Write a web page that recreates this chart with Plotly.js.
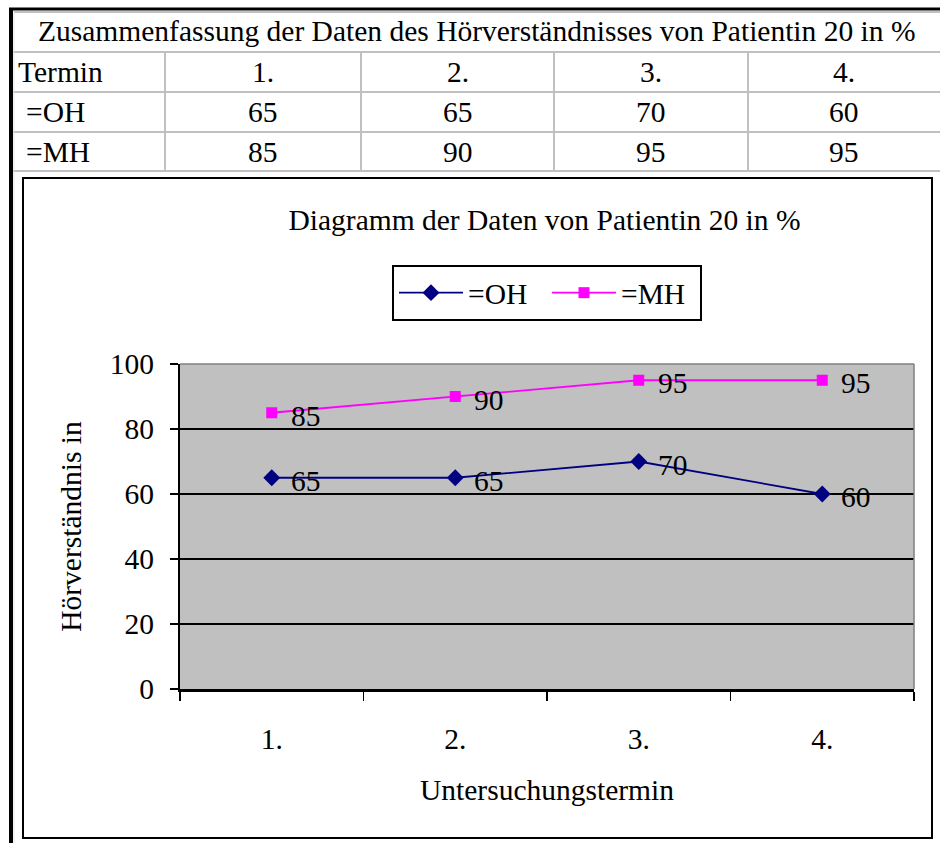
<!DOCTYPE html>
<html>
<head>
<meta charset="utf-8">
<script src="https://cdn.plot.ly/plotly-3.0.1.min.js"></script>
<style>html,body{margin:0;padding:0;background:#fff;}#chart{width:940px;height:843px;}</style>
</head>
<body>
<div id="chart"></div>
<script>
// ---- data ----
const tableTitle = 'Zusammenfassung der Daten des Hörverständnisses von Patientin 20 in %';
const rowHeader = 'Termin';
const categories = ['1.', '2.', '3.', '4.'];
const seriesNames = ['=OH', '=MH'];
const ohValues = [65, 65, 70, 60];
const mhValues = [85, 90, 95, 95];
const chartTitle = 'Diagramm der Daten von Patientin 20 in %';
const xTitle = 'Untersuchungstermin';
const yTitle = 'Hörverständnis in';
const yTicks = [0, 20, 40, 60, 80, 100];

// ---- geometry (pixels) ----
const W = 940, H = 843;
const L = 180, R = 914, T = 364, B = 689;
const px = x => (x - L) / (R - L);
const py = y => (B - y) / (B - T);
const FONT = '"Liberation Serif", "Times New Roman", serif';
const FS = 29.5;

const colEdges = [165, 361, 554, 748, 940];
const rowEdges = [10, 52, 92, 132, 171];
const GRAY = '#C0C0C0';

const shapes = [];
function line(x0, y0, x1, y1, color, width) {
  shapes.push({type: 'line', xref: 'paper', yref: 'paper',
    x0: px(x0), y0: py(y0), x1: px(x1), y1: py(y1),
    line: {color: color, width: width}});
}
// table grid (gray)
line(14, 12, 940, 12, GRAY, 2);
for (let i = 1; i < rowEdges.length; i++) line(13, rowEdges[i], 940, rowEdges[i], GRAY, 2);
for (let i = 0; i < 4; i++) line(colEdges[i], rowEdges[1], colEdges[i], rowEdges[4], GRAY, 2);
line(14, 12, 14, 843, '#E4E4E4', 1);
// outer black frame
line(11, 8, 11, 843, '#000', 4);
line(9, 9, 940, 9, '#000', 3);
// chart box
shapes.push({type: 'rect', xref: 'paper', yref: 'paper',
  x0: px(23), y0: py(838), x1: px(932), y1: py(178),
  line: {color: '#000', width: 2}, fillcolor: 'rgba(0,0,0,0)'});
// plot area top/right border (gray)
shapes.push({type: 'line', xref: 'paper', yref: 'paper', x0: 0, y0: 1, x1: 1, y1: 1, line: {color: '#808080', width: 1.5}});
shapes.push({type: 'line', xref: 'paper', yref: 'paper', x0: 1, y0: 0, x1: 1, y1: 1, line: {color: '#808080', width: 1.5}});

const annotations = [];
function txt(text, x, y, anchor) {
  annotations.push({text: text, xref: 'paper', yref: 'paper', x: px(x), y: py(y),
    xanchor: anchor || 'center', yanchor: 'middle', showarrow: false,
    font: {family: FONT, size: FS, color: '#000'}});
}
// table text
txt(tableTitle, 476, 31);
txt(rowHeader, 16, 72, 'left');
txt(seriesNames[0], 24, 112, 'left');
txt(seriesNames[1], 24, 152, 'left');
categories.forEach((c, i) => {
  const cx = (colEdges[i] + colEdges[i + 1]) / 2;
  txt(c, cx, 72);
  txt(String(ohValues[i]), cx, 112);
  txt(String(mhValues[i]), cx, 152);
});
// data labels (x given as category index on the category axis)
[ohValues, mhValues].forEach(vals => {
  vals.forEach((v, i) => {
    annotations.push({text: String(v), xref: 'x', yref: 'y', x: i, y: v,
      xanchor: 'left', yanchor: 'middle', xshift: 17, yshift: -3, showarrow: false,
      font: {family: FONT, size: FS, color: '#000'}});
  });
});

const traces = [
  {type: 'scatter', mode: 'lines+markers', name: seriesNames[0], x: categories, y: ohValues,
   line: {color: '#000080', width: 1.8},
   marker: {symbol: 'diamond', size: 13, color: '#000080'}},
  {type: 'scatter', mode: 'lines+markers', name: seriesNames[1], x: categories, y: mhValues,
   line: {color: '#FF00FF', width: 1.8},
   marker: {symbol: 'square', size: 11, color: '#FF00FF'}}
];

const layout = {
  width: W, height: H,
  margin: {l: L, r: W - R, t: T, b: H - B, pad: 0},
  paper_bgcolor: '#fff', plot_bgcolor: '#C0C0C0',
  font: {family: FONT, size: FS, color: '#000'},
  title: {text: chartTitle, x: 544.5 / W, xanchor: 'center', xref: 'container',
          y: 1 - 220 / H, yanchor: 'middle', yref: 'container',
          font: {family: FONT, size: FS, color: '#000'}},
  showlegend: true,
  legend: {orientation: 'h', x: px(392), y: py(265), xanchor: 'left', yanchor: 'top',
           xref: 'paper', yref: 'paper', bgcolor: '#fff', bordercolor: '#000', borderwidth: 2,
           font: {family: FONT, size: FS, color: '#000'}, itemwidth: 64,
           entrywidth: 74, entrywidthmode: 'pixels',
           itemclick: false, itemdoubleclick: false},
  xaxis: {type: 'category', range: [-0.5, 3.5], tickson: 'boundaries',
          ticks: 'outside', ticklen: 9, tickwidth: 1.5, tickcolor: '#000',
          showline: true, linecolor: '#000', linewidth: 2.5, showgrid: false, zeroline: false,
          ticklabelstandoff: 22, tickfont: {family: FONT, size: FS, color: '#000'},
          title: {text: xTitle, standoff: 26, font: {family: FONT, size: FS, color: '#000'}},
          fixedrange: true, automargin: false},
  yaxis: {range: [0, 100], tickvals: yTicks, ticks: 'outside', ticklen: 8, tickwidth: 1.5, tickcolor: '#000',
          showline: true, linecolor: '#000', linewidth: 2, showgrid: true, gridcolor: '#000', gridwidth: 1.5,
          zeroline: false, ticklabelstandoff: 10, tickfont: {family: FONT, size: FS, color: '#000'},
          title: {text: yTitle, standoff: 20, font: {family: FONT, size: FS, color: '#000'}},
          fixedrange: true, automargin: false},
  shapes: shapes,
  annotations: annotations,
  hovermode: false
};

Plotly.newPlot('chart', traces, layout, {staticPlot: true, displayModeBar: false});
</script>
</body>
</html>
